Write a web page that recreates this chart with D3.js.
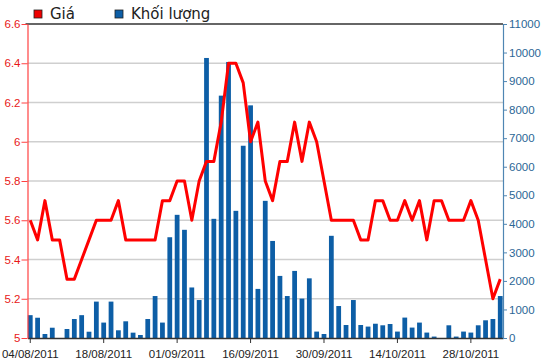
<!DOCTYPE html>
<html>
<head>
<meta charset="utf-8">
<script src="https://cdn.jsdelivr.net/npm/d3@7"></script>
<style>
  body { margin: 0; background: #fff; }
  svg { display: block; font-family: "Liberation Sans", Arial, sans-serif; }
</style>
</head>
<body>
<div id="chart"></div>
<script>
// trading days, 04/08/2011 .. 03/11/2011
const dates = [
  "04/08/2011", "05/08/2011", "08/08/2011", "09/08/2011", "10/08/2011",
  "11/08/2011", "12/08/2011", "15/08/2011", "16/08/2011", "17/08/2011",
  "18/08/2011", "19/08/2011", "22/08/2011", "23/08/2011", "24/08/2011",
  "25/08/2011", "26/08/2011", "29/08/2011", "30/08/2011", "31/08/2011",
  "01/09/2011", "05/09/2011", "06/09/2011", "07/09/2011", "08/09/2011",
  "09/09/2011", "12/09/2011", "13/09/2011", "14/09/2011", "15/09/2011",
  "16/09/2011", "19/09/2011", "20/09/2011", "21/09/2011", "22/09/2011",
  "23/09/2011", "26/09/2011", "27/09/2011", "28/09/2011", "29/09/2011",
  "30/09/2011", "03/10/2011", "04/10/2011", "05/10/2011", "06/10/2011",
  "07/10/2011", "10/10/2011", "11/10/2011", "12/10/2011", "13/10/2011",
  "14/10/2011", "17/10/2011", "18/10/2011", "19/10/2011", "20/10/2011",
  "21/10/2011", "24/10/2011", "25/10/2011", "26/10/2011", "27/10/2011",
  "28/10/2011", "31/10/2011", "01/11/2011", "02/11/2011", "03/11/2011"
];

const price = [
  5.6, 5.5, 5.7, 5.5, 5.5, 5.3, 5.3, 5.4, 5.5, 5.6,
  5.6, 5.6, 5.7, 5.5, 5.5, 5.5, 5.5, 5.5, 5.7, 5.7,
  5.8, 5.8, 5.6, 5.8, 5.9, 5.9, 6.1, 6.4, 6.4, 6.3,
  6.0, 6.1, 5.8, 5.7, 5.9, 5.9, 6.1, 5.9, 6.1, 6.0,
  5.8, 5.6, 5.6, 5.6, 5.6, 5.5, 5.5, 5.7, 5.7, 5.6,
  5.6, 5.7, 5.6, 5.7, 5.5, 5.7, 5.7, 5.6, 5.6, 5.6,
  5.7, 5.6, 5.4, 5.2, 5.3
];

const volume = [
  800, 710, 140, 360, 0, 315, 665, 800, 220, 1275,
  540, 1275, 270, 585, 187, 105, 665, 1470, 540, 3530,
  4315, 3790, 1770, 1330, 9810, 4175, 8490, 9670, 4455, 6735,
  8150, 1720, 4805, 3400, 2175, 1470, 2350, 1380, 2090, 225,
  140, 3580, 1120, 455, 1330, 455, 400, 500, 445, 490,
  225, 715, 365, 540, 190, 50, 0, 445, 50, 225,
  190, 445, 620, 665, 1470
];

const priceTicks = [5, 5.2, 5.4, 5.6, 5.8, 6, 6.2, 6.4, 6.6];
const volumeTicks = d3.range(0, 11001, 1000);
const dateTicks = ["04/08/2011", "18/08/2011", "01/09/2011", "16/09/2011",
  "30/09/2011", "14/10/2011", "28/10/2011"];
const legendItems = [
  { label: "Giá", color: "#ee0000" },
  { label: "Khối lượng", color: "#0d5ea6" }
];

const width = 550, height = 364;
const plot = { left: 27.5, right: 503, top: 24, bottom: 338 };

const svg = d3.select("#chart").append("svg")
  .attr("width", width)
  .attr("height", height);

const x = d3.scaleBand()
  .domain(dates)
  .range([plot.left, plot.right])
  .paddingInner(0.35)
  .paddingOuter(0.05);

const yPrice = d3.scaleLinear([5, 6.6], [plot.bottom, plot.top]);
const yVol = d3.scaleLinear([0, 11000], [plot.bottom, plot.top]);

// grid lines
svg.append("g")
  .selectAll("line")
  .data(priceTicks.slice(1, -1))
  .join("line")
  .attr("x1", plot.left)
  .attr("x2", plot.right)
  .attr("y1", d => yPrice(d))
  .attr("y2", d => yPrice(d))
  .attr("stroke", "#cfcfcf")
  .attr("stroke-width", 1.6);

// top border
svg.append("line")
  .attr("x1", plot.left - 2).attr("x2", plot.right)
  .attr("y1", plot.top).attr("y2", plot.top)
  .attr("stroke", "#333")
  .attr("stroke-width", 1.5);

// volume bars
svg.append("g")
  .selectAll("rect")
  .data(volume)
  .join("rect")
  .attr("x", (d, i) => x(dates[i]))
  .attr("y", d => yVol(d))
  .attr("width", x.bandwidth())
  .attr("height", d => plot.bottom - yVol(d))
  .attr("fill", "#0d5ea6");

// price line
const line = d3.line()
  .x((d, i) => x(dates[i]) + x.bandwidth() / 2)
  .y(d => yPrice(d));

svg.append("path")
  .attr("d", line(price))
  .attr("fill", "none")
  .attr("stroke", "#ff0000")
  .attr("stroke-width", 3)
  .attr("stroke-linejoin", "round");

// bottom axis
const xAxis = svg.append("g")
  .attr("transform", `translate(0,${plot.bottom})`)
  .call(d3.axisBottom(x).tickValues(dateTicks).tickSize(5).tickSizeOuter(0));
xAxis.select(".domain").attr("stroke", "#333").attr("stroke-width", 1.5);
xAxis.selectAll(".tick line").attr("stroke", "#333");
xAxis.selectAll(".tick text")
  .attr("fill", "#222")
  .attr("font-size", 11.5)
  .attr("dy", "1em");

// left axis
const yAxisL = svg.append("g")
  .attr("transform", `translate(${plot.left},0)`)
  .call(d3.axisLeft(yPrice).tickValues(priceTicks).tickFormat(d3.format("~g")).tickSize(6).tickSizeOuter(0));
yAxisL.select(".domain").attr("stroke", "#ff4040").attr("stroke-width", 1.2);
yAxisL.selectAll(".tick line").attr("stroke", "#ff4040");
yAxisL.selectAll(".tick text")
  .attr("fill", "#e81818")
  .attr("font-size", 11.5)
  .attr("x", -7);

// right axis
const yAxisR = svg.append("g")
  .attr("transform", `translate(${plot.right},0)`)
  .call(d3.axisRight(yVol).tickValues(volumeTicks).tickFormat(d3.format("d")).tickSize(4).tickSizeOuter(0));
yAxisR.select(".domain").attr("stroke", "#4f86b3").attr("stroke-width", 1.2);
yAxisR.selectAll(".tick line").attr("stroke", "#4f86b3");
yAxisR.selectAll(".tick text")
  .attr("fill", "#2b6796")
  .attr("font-size", 11.5)
  .attr("x", 6);

// legend
const legend = svg.append("g")
  .attr("font-family", "'DejaVu Sans', Verdana, sans-serif")
  .attr("font-size", 15);
const legendX = [34, 115];
legendItems.forEach((item, i) => {
  legend.append("rect")
    .attr("x", legendX[i])
    .attr("y", 10)
    .attr("width", 8)
    .attr("height", 8)
    .attr("fill", item.color)
    .attr("stroke", "#222")
    .attr("stroke-width", 0.8);
  legend.append("text")
    .attr("x", legendX[i] + 16)
    .attr("y", 19)
    .attr("fill", "#222")
    .text(item.label);
});
</script>
</body>
</html>
